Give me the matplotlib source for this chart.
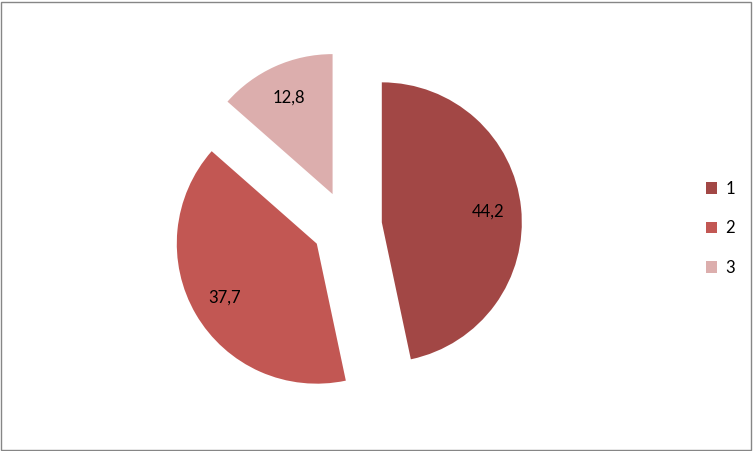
import matplotlib
matplotlib.use("Agg")
import matplotlib.pyplot as plt
from matplotlib.patches import Rectangle

# data
labels = ["1", "2", "3"]
values = [44.2, 37.7, 12.8]
colors = ["#A24745", "#C25753", "#DCAEAD"]

plt.rcParams["font.family"] = ["Lato", "DejaVu Sans"]

W, H = 753, 451
fig = plt.figure(figsize=(W / 100, H / 100), dpi=100)
ax = fig.add_axes([0, 0, 1, 1])

wedges, texts, autotexts = ax.pie(
    values, colors=colors, explode=[0.25] * 3, startangle=90,
    counterclock=False, autopct=lambda p: "",
    pctdistance=0.76, wedgeprops=dict(linewidth=0))

for t, v in zip(autotexts, values):
    t.set_text(f"{v:.1f}".replace(".", ","))
    t.set_fontsize(12)
    t.set_color("black")

# pie centre (px) and radius (px), data units = radius
cx, cy, r = 347, 451 - 226, 140
ax.set_xlim(-cx / r, (W - cx) / r)
ax.set_ylim(-cy / r, (H - cy) / r)
ax.set_aspect("equal")
ax.axis("off")

fig.legend(wedges, labels, loc="center left", bbox_to_anchor=(0.917, 0.494),
           frameon=False, fontsize=12, handlelength=0.7, handleheight=0.7,
           handletextpad=0.5, labelspacing=1.4)

fig.patches.append(Rectangle((1 / W, 1 / H), (W - 3) / W, (H - 3) / H,
                             transform=fig.transFigure, fill=False,
                             edgecolor="#868686", linewidth=1))

fig.savefig("out.png", dpi=100)
